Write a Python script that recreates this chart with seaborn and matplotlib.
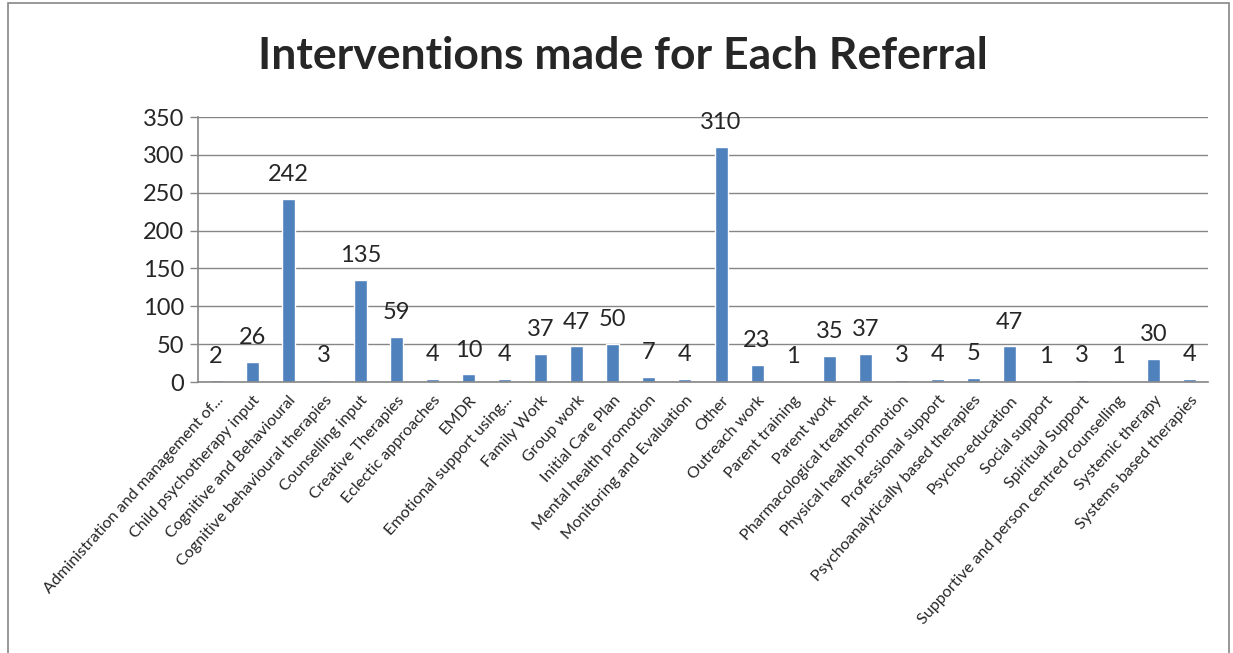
import numpy as np
import pandas as pd
import matplotlib
matplotlib.use('Agg')
import matplotlib.pyplot as plt
import seaborn as sns
from matplotlib.patches import Rectangle

categories = [
    'Administration and management of...', 'Child psychotherapy input',
    'Cognitive and Behavioural', 'Cognitive behavioural therapies',
    'Counselling input', 'Creative Therapies', 'Eclectic approaches', 'EMDR',
    'Emotional support using...', 'Family Work', 'Group work',
    'Initial Care Plan', 'Mental health promotion', 'Monitoring and Evaluation',
    'Other', 'Outreach work', 'Parent training', 'Parent work',
    'Pharmacological treatment', 'Physical health promotion',
    'Professional support', 'Psychoanalytically based therapies',
    'Psycho-education', 'Social support', 'Spiritual Support',
    'Supportive and person centred counselling', 'Systemic therapy',
    'Systems based therapies',
]
counts = [2, 26, 242, 3, 135, 59, 4, 10, 4, 37, 47, 50, 7, 4, 310, 23, 1, 35,
          37, 3, 4, 5, 47, 1, 3, 1, 30, 4]
y_ticks = [0, 50, 100, 150, 200, 250, 300, 350]

df = pd.DataFrame({'category': categories, 'count': counts})

sns.set_style('white')
plt.rcParams['font.family'] = ['Lato', 'DejaVu Sans']

fig = plt.figure(figsize=(12.33, 6.53), dpi=100)
ax = fig.add_axes([0.1606, 0.415, 0.8191, 0.4058])

sns.barplot(data=df, x='category', y='count', color='#4F81BD', width=0.36,
            saturation=1, ax=ax)

n = len(categories)
ax.set_xlim(-0.5, n - 0.5)
ax.set_ylim(0, 350)
ax.set_yticks(y_ticks)
ax.set_yticklabels([str(v) for v in y_ticks], fontsize=17)
ax.yaxis.grid(True, color='#868686', linewidth=1)
ax.set_axisbelow(True)
for s in ['top', 'right']:
    ax.spines[s].set_visible(False)
for s in ['left', 'bottom']:
    ax.spines[s].set_color('#868686')
    ax.spines[s].set_linewidth(1.2)

ax.set_xticks(np.arange(n))
ax.set_xticklabels(categories, rotation=48, ha='right', rotation_mode='anchor',
                   fontsize=11.6)
ax.tick_params(axis='x', length=0, pad=8)
ax.set_xticks(np.arange(n + 1) - 0.5, minor=True)
ax.tick_params(axis='x', which='minor', length=6, color='#868686', width=1)
ax.tick_params(axis='y', length=6, color='#868686', width=1, left=True, pad=4)
ax.set_xlabel('')
ax.set_ylabel('')

for i, v in enumerate(counts):
    ax.annotate(str(v), (i, v), xytext=(0, 10), textcoords='offset points',
                ha='center', va='bottom', fontsize=17)

fig.text(0.505, 0.915, 'Interventions made for Each Referral', ha='center',
         va='center', fontsize=32, fontweight='bold')

fig.patches.append(Rectangle((8 / 1233, -0.1), 1221 / 1233, 1.1 - 3 / 653,
                             transform=fig.transFigure, fill=False,
                             edgecolor='#868686', linewidth=1.2))

fig.savefig('out.png', dpi=100)
